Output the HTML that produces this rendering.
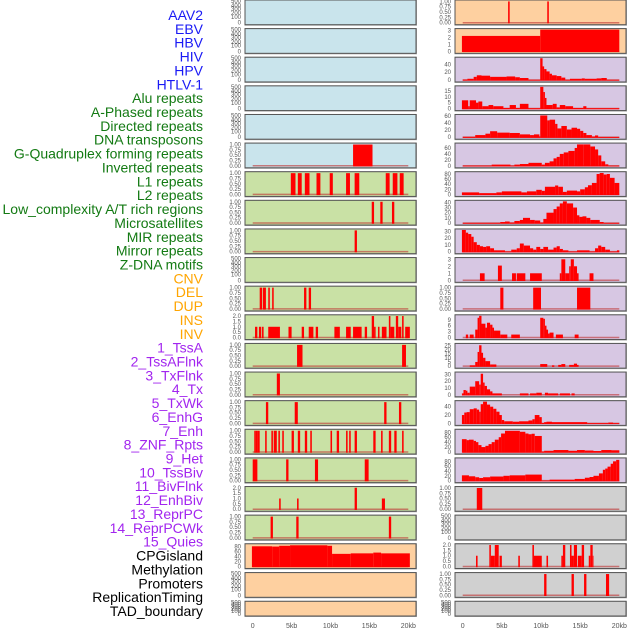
<!DOCTYPE html>
<html><head><meta charset="utf-8">
<style>
html,body{margin:0;padding:0;background:#fff;}
body{width:630px;height:630px;overflow:hidden;position:relative;font-family:"Liberation Sans",sans-serif;}
svg{position:absolute;left:0;top:0;}
</style></head>
<body>
<svg id="chart" width="630" height="630" viewBox="0 0 630 630"></svg>
<script>
// ---- labels ----
const trackLabels = ["AAV2","EBV","HBV","HIV","HPV","HTLV-1","Alu repeats","A-Phased repeats","Directed repeats","DNA transposons","G-Quadruplex forming repeats","Inverted repeats","L1 repeats","L2 repeats","Low_complexity A/T rich regions","Microsatellites","MIR repeats","Mirror repeats","Z-DNA motifs","CNV","DEL","DUP","INS","INV","1_TssA","2_TssAFlnk","3_TxFlnk","4_Tx","5_TxWk","6_EnhG","7_Enh","8_ZNF_Rpts","9_Het","10_TssBiv","11_BivFlnk","12_EnhBiv","13_ReprPC","14_ReprPCWk","15_Quies","CPGisland","Methylation","Promoters","ReplicationTiming","TAD_boundary"];
const labelGroups = ["v","v","v","v","v","v","r","r","r","r","r","r","r","r","r","r","r","r","r","s","s","s","s","s","c","c","c","c","c","c","c","c","c","c","c","c","c","c","c","o","o","o","o","o"];
const xTickVals = [0,5000,10000,15000,20000];
const xTickLabels = ["0","5kb","10kb","15kb","20kb"];

// ---- left column series: [startKb, endKb, value] ----
const L0=[],L1=[],L2=[],L3=[],L4=[],L9=[],L20=[],L21=[];
const L5=[[12.9,15.4,1]];
const L6=[[4.9,5.5,1],[5.8,6.3,1],[6.7,7.3,1],[8.2,8.7,1],[9.9,10.3,1],[12.0,12.5,1],[13.1,13.7,1],[17.1,17.6,1],[18.0,18.6,1],[18.9,19.4,1]];
const L7=[[15.3,15.6,1],[16.4,16.7,1],[17.9,18.2,1]];
const L8=[[13.1,13.4,1]];
const L10=[[0.9,1.2,1],[1.3,1.7,1],[2.0,2.2,1],[2.5,2.7,1],[6.6,6.9,1],[7.2,7.5,1]];
const L11=[[0.3,0.6,1],[0.8,1.1,1],[1.2,1.4,1],[2.0,3.5,1],[4.6,5.0,1],[6.3,6.6,1],[7.2,7.8,1],[8.1,8.4,1],[10.5,11.2,1],[12.0,12.6,1],[12.9,14.0,1],[14.4,14.7,1],[15.3,15.6,2],[15.6,15.8,1],[16.1,16.3,1],[16.6,17.2,1],[17.5,17.7,2],[17.7,18.2,1],[18.4,18.7,2],[18.7,19.1,1],[19.2,19.4,2],[19.6,20.2,1]];
const L12=[[5.7,6.4,1],[19.2,19.7,1]];
const L13=[[3.1,3.5,1]];
const L14=[[1.7,2.0,1],[5.4,5.8,1],[16.9,17.2,1],[18.8,19.1,1]];
const L15=[[0.2,0.4,1],[0.4,0.6,1],[0.6,0.9,1],[1.6,1.8,1],[2.4,2.6,1],[2.7,3.1,1],[3.3,3.5,1],[3.8,4.0,1],[5.0,5.3,1],[5.8,6.1,1],[6.7,7.0,1],[7.4,7.6,1],[10.0,10.2,1],[10.8,11.1,1],[12.0,12.2,1],[12.4,12.6,1],[13.1,13.4,1],[15.5,15.8,1],[16.5,16.7,1],[17.5,17.8,1],[18.2,18.5,1],[19.2,19.4,1]];
const L16=[[0,0.6,1],[4.3,4.6,1],[8.0,8.4,1],[14.4,14.9,1]];
const L17=[[3.4,3.6,1],[5.7,5.9,1],[13.1,13.4,2],[16.6,17.0,1]];
const L18=[[2.3,2.6,1],[5.6,5.9,1],[17.5,17.8,1]];
const L19=[[-0.1,2.5,80],[2.5,3.4,79],[3.4,4.8,82],[4.8,9.6,84],[9.6,10.2,82],[10.2,12.6,50],[12.6,15.5,52],[15.5,16.5,55],[16.5,20.2,52]];

// ---- right column series ----
const R18=[],R21=[];
const R0=[[5.8,6.0,1],[10.8,11.0,1]];
const R1=[[-0.1,9.9,2.2],[9.9,20,3.1]];
const R2=[[0,0.6,1],[0.6,1.4,3],[1.4,1.8,8],[1.8,2.4,12],[2.4,3.5,11],[3.5,5.6,8],[5.6,6.7,9],[6.7,7.3,7],[7.3,8.4,5],[8.4,9.9,0.5],[9.9,10.2,56],[10.2,10.4,35],[10.4,10.7,28],[10.7,11.1,22],[11.1,11.4,16],[11.4,12.0,12],[12.0,12.6,10],[12.6,13.1,6],[13.1,13.7,0.5],[13.7,15.2,3],[15.2,15.6,4],[15.6,17.1,3],[17.1,17.7,4],[17.7,18.4,5],[18.4,20,0.5]];
const R3=[[-0.1,0.7,7],[0.7,0.9,2],[0.9,1.7,7],[1.7,2.0,5],[2.0,2.5,6],[2.5,3.3,2],[3.3,3.9,3],[3.9,5.2,2],[5.2,6.0,0.5],[6.0,6.8,3],[6.8,7.3,0.5],[7.3,8.4,4],[8.4,9.9,0.3],[9.9,10.3,18.4],[10.3,10.5,14],[10.5,10.7,9],[10.7,11.5,3],[11.5,12.0,4],[12.0,12.4,1],[12.4,13.1,3],[13.1,14.1,2],[14.1,15.4,0.5],[15.4,15.8,2],[15.8,20,0.3]];
const R4=[[0,1.6,1],[1.6,2.9,6],[2.9,3.5,10],[3.5,4.4,17],[4.4,6.0,13],[6.0,7.3,12],[7.3,8.6,8],[8.6,9.1,6],[9.1,9.8,8],[9.8,9.9,2],[9.9,10.8,62],[10.8,11.1,48],[11.1,11.8,50],[11.8,12.1,38],[12.1,12.6,25],[12.6,13.3,32],[13.3,13.9,22],[13.9,14.6,27],[14.6,15.0,24],[15.0,15.4,18],[15.4,15.8,12],[15.8,16.5,6],[16.5,16.9,2],[16.9,17.3,5],[17.3,20,0.5]];
const R5=[[0,3.7,0.5],[3.7,6.1,4],[6.1,6.6,0.5],[6.6,7.3,4],[7.3,8.4,6],[8.4,10.1,10],[10.1,10.5,4],[10.5,11.1,10],[11.1,11.6,15],[11.6,12.0,25],[12.0,12.4,30],[12.4,12.9,40],[12.9,13.5,45],[13.5,14.3,50],[14.3,14.6,60],[14.6,15.4,72],[15.4,16.3,72],[16.3,16.9,65],[16.9,17.3,55],[17.3,17.7,35],[17.7,18.2,15],[18.2,18.6,5],[18.6,20,0.5]];
const R6=[[-0.1,2.1,8],[2.1,4.3,5],[4.3,5.0,8],[5.0,7.5,12],[7.5,8.2,8],[8.2,9.4,12],[9.4,10.1,18],[10.1,10.5,14],[10.5,11.8,30],[11.8,12.2,35],[12.2,12.8,30],[12.8,13.3,10],[13.3,14.6,15],[14.6,15.0,12],[15.0,15.6,20],[15.6,16.0,28],[16.0,16.5,36],[16.5,17.1,45],[17.1,17.5,80],[17.5,18.0,84],[18.0,18.4,78],[18.4,18.8,80],[18.8,19.4,65],[19.4,20,45]];
const R7=[[0,4.8,0.3],[4.8,5.4,2],[5.4,6.0,3],[6.0,6.6,1],[6.6,7.3,4],[7.3,7.7,6],[7.7,8.6,10],[8.6,9.2,6],[9.2,9.9,5],[9.9,10.3,1],[10.3,10.7,8],[10.7,11.6,20],[11.6,12.0,27],[12.0,12.4,32],[12.4,12.8,38],[12.8,13.3,42],[13.3,14.1,38],[14.1,14.6,30],[14.6,14.9,15],[14.9,15.3,12],[15.3,15.8,13],[15.8,16.3,10],[16.3,17.5,6],[17.5,18.0,2],[18.0,20,0.3]];
const R8=[[-0.1,0.4,32],[0.4,0.7,28],[0.7,1.1,26],[1.1,1.4,22],[1.4,1.8,14],[1.8,2.2,10],[2.2,2.6,8],[2.6,3.0,7],[3.0,3.5,8],[3.5,4.0,5],[4.0,5.4,2],[5.4,6.2,0.3],[6.2,6.9,3],[6.9,7.3,5],[7.3,7.8,12],[7.8,8.6,9],[8.6,9.0,5],[9.0,9.4,3],[9.4,9.9,7],[9.9,10.3,4],[10.3,10.9,7],[10.9,11.6,3],[11.6,12.0,6],[12.0,12.4,8],[12.4,12.8,4],[12.8,13.5,2],[13.5,14.6,0.3],[14.6,16.2,2],[16.2,16.9,0.3],[16.9,17.3,5],[17.3,17.7,9],[17.7,18.2,7],[18.2,18.8,3],[18.8,19.7,0.3],[19.7,20,2]];
const R9=[[2.2,2.8,1],[4.5,5.0,2.1],[6.3,6.8,1],[6.9,8.0,1],[8.6,10.1,1],[12.4,12.6,1],[12.6,13.1,3],[13.1,13.6,1],[13.6,13.8,2],[13.8,14.2,3],[14.2,14.6,2],[14.6,14.8,1],[16.2,16.7,1]];
const R10=[[4.8,5.2,1],[9.0,10.0,1],[14.6,16.3,1]];
const R11=[[0.4,0.7,1.5],[0.9,1.4,1.5],[1.6,1.9,4],[1.9,2.1,10],[2.1,2.4,11],[2.4,2.9,7],[2.9,3.1,5],[3.1,3.5,7.5],[3.5,3.8,6.5],[3.8,4.0,5],[4.0,4.8,3.5],[4.8,5.7,1.5],[6.2,7.3,1.5],[9.9,10.3,10],[10.3,10.5,9.5],[10.5,10.7,6],[10.7,10.9,4],[10.9,11.1,2],[11.1,11.6,2.5],[11.9,12.8,1.5],[14.3,14.8,1.5]];
const R12=[[0.9,1.6,1],[1.6,1.9,5],[1.9,2.1,17],[2.1,2.4,25],[2.4,2.6,16],[2.6,2.9,10],[2.9,3.5,6],[3.5,4.3,2],[9.9,10.8,2.5],[11.4,11.7,1],[12.2,12.6,1.5],[12.6,13.1,2.5],[13.6,14.2,1.5],[14.2,14.6,3],[14.6,14.8,1.5]];
const R13=[[-0.1,0.1,2],[0.1,0.4,7],[0.4,0.6,6],[0.6,0.9,3],[0.9,1.6,12],[1.6,2.1,20],[2.1,2.3,15],[2.3,2.6,31],[2.6,2.8,18],[2.8,3.1,13],[3.1,3.5,8],[3.5,3.8,5],[3.8,5.0,2],[7.3,8.4,2],[8.6,9.4,2],[9.4,10.1,3],[10.5,10.9,3],[10.9,12.2,2],[12.4,13.7,2],[13.9,14.3,2]];
const R14=[[-0.1,0.2,20],[0.2,0.5,26],[0.5,0.9,27],[0.9,1.4,34],[1.4,1.8,36],[1.8,2.1,33],[2.1,2.3,28],[2.3,2.6,46],[2.6,3.1,52],[3.1,3.5,45],[3.5,3.9,40],[3.9,4.3,35],[4.3,4.7,28],[4.7,5.0,20],[5.0,5.3,8],[5.3,6.4,5],[6.4,7.2,4],[7.2,8.4,5],[8.4,8.9,7],[8.9,9.2,10],[9.2,9.8,20],[9.8,10.1,15],[10.1,10.4,1],[10.4,10.7,3],[10.7,11.4,4],[11.4,15.9,3],[15.9,18.6,0.5],[18.6,19.2,2],[19.2,20,0.5]];
const R15=[[-0.1,0.5,52],[0.5,0.8,48],[0.8,1.4,50],[1.4,1.7,45],[1.7,2.0,40],[2.0,2.4,28],[2.4,2.9,20],[2.9,3.3,25],[3.3,3.7,32],[3.7,4.1,40],[4.1,4.6,50],[4.6,4.9,60],[4.9,5.4,75],[5.4,7.3,86],[7.3,8.0,82],[8.0,8.4,75],[8.4,8.8,72],[8.8,9.2,74],[9.2,10.1,65],[10.1,10.4,2],[10.4,11.6,5],[11.6,13.5,8],[13.5,14.6,5],[14.6,15.6,8],[15.6,16.7,6],[16.7,17.7,4],[17.7,19.0,8],[19.0,20,7]];
const R16=[[-0.1,0.8,22],[0.8,1.6,18],[1.6,2.1,14],[2.1,2.6,11],[2.6,3.5,14],[3.5,5.2,17],[5.2,6.0,20],[6.0,8.0,22],[8.0,10.1,25],[10.1,11.1,0.5],[11.1,14.3,4],[14.3,15.6,7],[15.6,16.2,12],[16.2,16.7,15],[16.7,17.4,20],[17.4,17.9,30],[17.9,18.2,45],[18.2,18.5,50],[18.5,18.9,58],[18.9,19.2,70],[19.2,19.6,80],[19.6,20,86]];
const R17=[[1.8,2.5,1]];
const R19=[[1.7,1.9,1],[3.4,3.6,2],[3.6,4.1,1],[4.1,4.6,2],[4.7,5.0,1],[7.1,7.3,1],[8.9,9.1,2],[9.1,10.1,1],[10.7,10.9,1],[12.6,12.8,1],[12.8,13.1,2],[13.7,13.9,2],[13.9,14.2,1],[14.2,14.6,2],[14.7,15.2,1],[15.2,15.5,2],[16.1,16.3,1],[16.3,16.6,2],[16.6,16.7,1]];
const R20=[[10.4,10.7,1],[13.9,14.2,1],[15.5,15.8,1],[18.3,18.7,1]];

const leftSeries=[L0,L1,L2,L3,L4,L5,L6,L7,L8,L9,L10,L11,L12,L13,L14,L15,L16,L17,L18,L19,L20,L21];
const rightSeries=[R0,R1,R2,R3,R4,R5,R6,R7,R8,R9,R10,R11,R12,R13,R14,R15,R16,R17,R18,R19,R20,R21];
const leftTicks=["e","e","e","e","e","f","f","f","f","e","f","h","f","f","f","f","f","h","f",[0,20,40,60,80],"e","e"];
const leftYmax=[1,1,1,1,1,1.02,1.02,1.02,1.02,1,1.02,2.02,1.02,1.02,1.02,1.02,1.02,2.02,1.02,86,1,1];
const rightTicks=["f",[0,1,2,3],[0,20,40],[0,5,10,15],[0,20,40,60],[0,20,40,60],[0,20,40,60,80],[0,10,20,30,40],[0,10,20,30],[0,1,2,3],"f",[0,3,6,9],[0,5,10,15,20,25],[0,10,20,30],[0,20,40],[0,20,40,60,80],[0,20,40,60,80],"f","e","h","f","e"];
const rightYmax=[1.02,3.1,56,18.4,62,73,85,42,32,3.1,1.02,11,26,32,52,88,90,1.02,1,2.02,1.02,1];
const leftBg=["#c9e4ec","#c9e4ec","#c9e4ec","#c9e4ec","#c9e4ec","#c9e4ec","#c9e1a5","#c9e1a5","#c9e1a5","#c9e1a5","#c9e1a5","#c9e1a5","#c9e1a5","#c9e1a5","#c9e1a5","#c9e1a5","#c9e1a5","#c9e1a5","#c9e1a5","#fed0a0","#fed0a0","#fed0a0"];
const rightBg=["#fed0a0","#fed0a0","#d7c7e3","#d7c7e3","#d7c7e3","#d7c7e3","#d7c7e3","#d7c7e3","#d7c7e3","#d7c7e3","#d7c7e3","#d7c7e3","#d7c7e3","#d7c7e3","#d7c7e3","#d7c7e3","#d7c7e3","#d0d0d0","#d0d0d0","#d0d0d0","#d0d0d0","#d0d0d0"];

const NS="http://www.w3.org/2000/svg";
const svg=document.getElementById("chart");
const groupColor={v:"#1a1af5",r:"#137a13",s:"#ffa500",c:"#a225ef",o:"#000000"};
function mk(tag,attrs,parent){const e=document.createElementNS(NS,tag);for(const k in attrs)e.setAttribute(k,attrs[k]);(parent||svg).appendChild(e);return e;}

trackLabels.forEach((t,i)=>{
  const el=mk("text",{x:203,y:(20+i*13.86).toFixed(2),"text-anchor":"end","font-size":"14","fill":groupColor[labelGroups[i]],"font-family":"Liberation Sans, sans-serif"});
  el.textContent=t;
  
  
});

const cols=[{x0:245,x1:416,z0:252.7,z1:408.3,tx:241,series:leftSeries,ticks:leftTicks,ymax:leftYmax,bg:leftBg,name:"left"},
            {x0:455,x1:626,z0:462.7,z1:619.3,tx:451,series:rightSeries,ticks:rightTicks,ymax:rightYmax,bg:rightBg,name:"right"}];
const emptyFr=[[500,0],[400,0.2],[300,0.36],[200,0.56],[100,0.74],[0,1]];

function fmtTick(kind,v){if(kind==="f")return v.toFixed(2);if(kind==="h")return v.toFixed(1);return String(v);}

cols.forEach(col=>{
  const xs=kb=>col.z0+(kb*1000/20000)*(col.z1-col.z0);
  for(let k=0;k<22;k++){
    let top=k<20?k*28.62:(k===20?572.6:601.3);
    let h=k===21?14.7:24.7;
    const g=mk("g",{});
    
    
    const bgr=mk("rect",{x:col.x0-0.5,y:top-0.5,width:col.x1-col.x0+1.5,height:h+1.5,fill:"#a8a8a8"},g);
    
    
    const bg=mk("rect",{x:col.x0,y:top,width:col.x1-col.x0,height:h,fill:col.bg[k],stroke:"#555","stroke-width":"1"},g);
    
    
    const kind=col.ticks[k], ymax=col.ymax[k];
    const ys=v=>top+1+(1-v/ymax)*(h-3);
    if(kind==="e"){
      emptyFr.forEach(([v,f])=>{
        const t=mk("text",{x:col.tx,y:(top+1+f*(h-3)+2).toFixed(2),"text-anchor":"end","font-size":"6",fill:"#555"},g);
        t.textContent=String(v);
        
        
      });
    } else {
      const vals=kind==="f"?[0,0.25,0.5,0.75,1]:(kind==="h"?[0,0.5,1,1.5,2]:kind);
      vals.forEach(v=>{
        const t=mk("text",{x:col.tx,y:(ys(v)+2).toFixed(2),"text-anchor":"end","font-size":"6",fill:"#555"},g);
        t.textContent=fmtTick(typeof kind==="string"?kind:"i",v);
        
        
      });
      const bl=mk("line",{x1:xs(0),x2:xs(20),y1:ys(0),y2:ys(0),stroke:"rgba(190,50,50,0.6)","stroke-width":"1.5"},g);
      
      
    }
    col.series[k].forEach(s=>{
      const x1=Math.max(xs(s[0]),col.x0+0.5), x2=Math.min(xs(s[1]),col.x1-0.5);
      const y=Math.max(ys(s[2]),top+0.5);
      const r=mk("rect",{x:x1.toFixed(2),y:y.toFixed(2),width:Math.max(x2-x1,0.8).toFixed(2),height:(ys(0)-y+0.7).toFixed(2),fill:"#ff0000"},g);
      
      
    });
  }
  xTickVals.forEach((v,i)=>{
    const t=mk("text",{x:xs(v/1000),y:628,"text-anchor":"middle","font-size":"7",fill:"#555"});
    t.textContent=xTickLabels[i];
    
    
  });
});
</script>
</body></html>
